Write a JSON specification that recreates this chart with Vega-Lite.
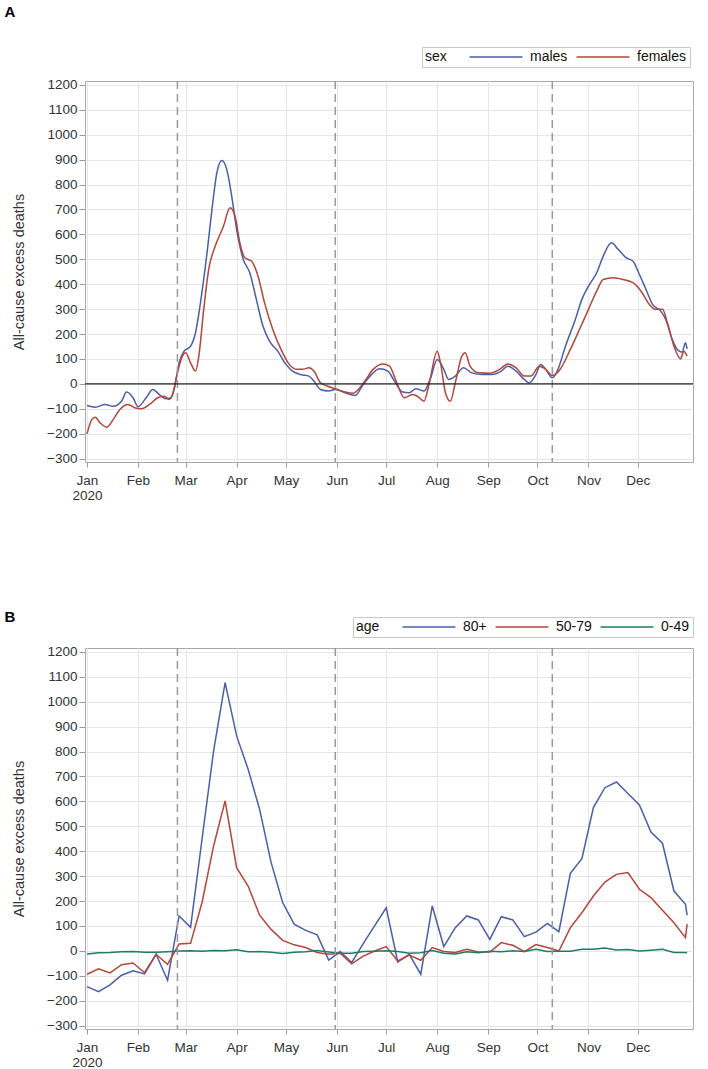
{
  "$schema": "https://vega.github.io/schema/vega-lite/v6.json",
  "background": "white",
  "padding": {"left": 4, "top": 4, "right": 5, "bottom": 0},
  "spacing": 107,
  "config": {
    "font": "Liberation Sans",
    "view": {"stroke": "#a8a8a8", "strokeWidth": 1},
    "axis": {
      "labelFont": "Liberation Sans",
      "labelFontSize": 13.5,
      "labelColor": "#333333",
      "tickColor": "#9a9a9a",
      "domain": false,
      "gridColor": "#e6e6e6",
      "titleFont": "Liberation Sans",
      "titleFontSize": 14.5,
      "titleFontWeight": "normal",
      "titleColor": "#333333",
      "labelOverlap": false
    },
    "axisX": {
      "grid": true,
      "tickSize": 5,
      "labelPadding": 6,
      "labelAngle": 0,
      "labelAlign": "center",
      "labelLineHeight": 15,
      "labelFlush": false,
      "title": null
    },
    "axisY": {
      "grid": true,
      "tickSize": 6,
      "labelPadding": 2,
      "titlePadding": 20
    },
    "legend": {
      "orient": "none",
      "direction": "horizontal",
      "titleOrient": "left",
      "titleAnchor": "middle",
      "titleBaseline": "middle",
      "symbolType": "M-5,0H5",
      "symbolSize": 112,
      "symbolStrokeWidth": 1.5,
      "labelOffset": 27,
      "columnPadding": 5,
      "titlePadding": 42,
      "strokeColor": "#c8c8c8",
      "fillColor": "white",
      "padding": 3,
      "labelFont": "Liberation Sans",
      "labelFontSize": 14,
      "labelColor": "#111111",
      "titleFont": "Liberation Sans",
      "titleFontSize": 14,
      "titleFontWeight": "normal",
      "titleColor": "#111111"
    },
    "title": {"fontSize": 15, "fontWeight": "bold", "anchor": "start", "frame": "bounds", "color": "#000000", "dx": -7}
  },
  "resolve": {
    "scale": {"color": "independent", "x": "independent", "y": "independent"},
    "legend": {"color": "independent"}
  },
  "vconcat": [
    {
      "title": {"text": "A", "offset": 27},
      "width": 608,
      "height": 381,
      "layer": [
        {
          "data": {"values": [
            {"date": "2020-01-01", "sex": "males", "deaths": -87},
            {"date": "2020-01-06", "sex": "males", "deaths": -94},
            {"date": "2020-01-12", "sex": "males", "deaths": -83},
            {"date": "2020-01-17", "sex": "males", "deaths": -90},
            {"date": "2020-01-22", "sex": "males", "deaths": -70},
            {"date": "2020-01-25", "sex": "males", "deaths": -33},
            {"date": "2020-01-29", "sex": "males", "deaths": -56},
            {"date": "2020-02-01", "sex": "males", "deaths": -92},
            {"date": "2020-02-06", "sex": "males", "deaths": -56},
            {"date": "2020-02-10", "sex": "males", "deaths": -23},
            {"date": "2020-02-14", "sex": "males", "deaths": -43},
            {"date": "2020-02-18", "sex": "males", "deaths": -60},
            {"date": "2020-02-21", "sex": "males", "deaths": -56},
            {"date": "2020-02-23", "sex": "males", "deaths": -23},
            {"date": "2020-02-26", "sex": "males", "deaths": 84},
            {"date": "2020-02-29", "sex": "males", "deaths": 131},
            {"date": "2020-03-04", "sex": "males", "deaths": 151},
            {"date": "2020-03-07", "sex": "males", "deaths": 205},
            {"date": "2020-03-10", "sex": "males", "deaths": 325},
            {"date": "2020-03-14", "sex": "males", "deaths": 526},
            {"date": "2020-03-17", "sex": "males", "deaths": 700},
            {"date": "2020-03-20", "sex": "males", "deaths": 848},
            {"date": "2020-03-23", "sex": "males", "deaths": 897},
            {"date": "2020-03-26", "sex": "males", "deaths": 861},
            {"date": "2020-03-29", "sex": "males", "deaths": 754},
            {"date": "2020-04-01", "sex": "males", "deaths": 620},
            {"date": "2020-04-05", "sex": "males", "deaths": 500},
            {"date": "2020-04-09", "sex": "males", "deaths": 446},
            {"date": "2020-04-13", "sex": "males", "deaths": 339},
            {"date": "2020-04-17", "sex": "males", "deaths": 232},
            {"date": "2020-04-21", "sex": "males", "deaths": 171},
            {"date": "2020-04-26", "sex": "males", "deaths": 131},
            {"date": "2020-05-01", "sex": "males", "deaths": 78},
            {"date": "2020-05-05", "sex": "males", "deaths": 51},
            {"date": "2020-05-10", "sex": "males", "deaths": 37},
            {"date": "2020-05-15", "sex": "males", "deaths": 31},
            {"date": "2020-05-18", "sex": "males", "deaths": 11},
            {"date": "2020-05-22", "sex": "males", "deaths": -23},
            {"date": "2020-05-27", "sex": "males", "deaths": -29},
            {"date": "2020-05-31", "sex": "males", "deaths": -23},
            {"date": "2020-06-06", "sex": "males", "deaths": -36},
            {"date": "2020-06-12", "sex": "males", "deaths": -47},
            {"date": "2020-06-17", "sex": "males", "deaths": -3},
            {"date": "2020-06-22", "sex": "males", "deaths": 37},
            {"date": "2020-06-27", "sex": "males", "deaths": 60},
            {"date": "2020-07-02", "sex": "males", "deaths": 51},
            {"date": "2020-07-06", "sex": "males", "deaths": 11},
            {"date": "2020-07-11", "sex": "males", "deaths": -33},
            {"date": "2020-07-15", "sex": "males", "deaths": -36},
            {"date": "2020-07-19", "sex": "males", "deaths": -20},
            {"date": "2020-07-24", "sex": "males", "deaths": -29},
            {"date": "2020-07-28", "sex": "males", "deaths": 24},
            {"date": "2020-08-01", "sex": "males", "deaths": 98},
            {"date": "2020-08-05", "sex": "males", "deaths": 58},
            {"date": "2020-08-08", "sex": "males", "deaths": 17},
            {"date": "2020-08-12", "sex": "males", "deaths": 31},
            {"date": "2020-08-17", "sex": "males", "deaths": 64},
            {"date": "2020-08-22", "sex": "males", "deaths": 44},
            {"date": "2020-08-28", "sex": "males", "deaths": 37},
            {"date": "2020-09-03", "sex": "males", "deaths": 37},
            {"date": "2020-09-09", "sex": "males", "deaths": 51},
            {"date": "2020-09-13", "sex": "males", "deaths": 71},
            {"date": "2020-09-18", "sex": "males", "deaths": 51},
            {"date": "2020-09-22", "sex": "males", "deaths": 24},
            {"date": "2020-09-26", "sex": "males", "deaths": 4},
            {"date": "2020-09-30", "sex": "males", "deaths": 37},
            {"date": "2020-10-03", "sex": "males", "deaths": 78},
            {"date": "2020-10-06", "sex": "males", "deaths": 58},
            {"date": "2020-10-10", "sex": "males", "deaths": 24},
            {"date": "2020-10-13", "sex": "males", "deaths": 51},
            {"date": "2020-10-18", "sex": "males", "deaths": 151},
            {"date": "2020-10-24", "sex": "males", "deaths": 258},
            {"date": "2020-10-28", "sex": "males", "deaths": 339},
            {"date": "2020-11-01", "sex": "males", "deaths": 392},
            {"date": "2020-11-06", "sex": "males", "deaths": 446},
            {"date": "2020-11-10", "sex": "males", "deaths": 513},
            {"date": "2020-11-15", "sex": "males", "deaths": 566},
            {"date": "2020-11-19", "sex": "males", "deaths": 540},
            {"date": "2020-11-24", "sex": "males", "deaths": 506},
            {"date": "2020-11-28", "sex": "males", "deaths": 493},
            {"date": "2020-12-02", "sex": "males", "deaths": 439},
            {"date": "2020-12-06", "sex": "males", "deaths": 379},
            {"date": "2020-12-10", "sex": "males", "deaths": 319},
            {"date": "2020-12-15", "sex": "males", "deaths": 292},
            {"date": "2020-12-18", "sex": "males", "deaths": 258},
            {"date": "2020-12-22", "sex": "males", "deaths": 178},
            {"date": "2020-12-25", "sex": "males", "deaths": 138},
            {"date": "2020-12-28", "sex": "males", "deaths": 127},
            {"date": "2020-12-30", "sex": "males", "deaths": 165},
            {"date": "2020-12-31", "sex": "males", "deaths": 140},
            {"date": "2020-01-01", "sex": "females", "deaths": -201},
            {"date": "2020-01-04", "sex": "females", "deaths": -143},
            {"date": "2020-01-06", "sex": "females", "deaths": -134},
            {"date": "2020-01-09", "sex": "females", "deaths": -157},
            {"date": "2020-01-13", "sex": "females", "deaths": -174},
            {"date": "2020-01-17", "sex": "females", "deaths": -143},
            {"date": "2020-01-21", "sex": "females", "deaths": -103},
            {"date": "2020-01-26", "sex": "females", "deaths": -83},
            {"date": "2020-01-30", "sex": "females", "deaths": -96},
            {"date": "2020-02-03", "sex": "females", "deaths": -100},
            {"date": "2020-02-08", "sex": "females", "deaths": -83},
            {"date": "2020-02-13", "sex": "females", "deaths": -56},
            {"date": "2020-02-17", "sex": "females", "deaths": -50},
            {"date": "2020-02-20", "sex": "females", "deaths": -63},
            {"date": "2020-02-22", "sex": "females", "deaths": -43},
            {"date": "2020-02-25", "sex": "females", "deaths": 44},
            {"date": "2020-02-28", "sex": "females", "deaths": 111},
            {"date": "2020-03-01", "sex": "females", "deaths": 125},
            {"date": "2020-03-04", "sex": "females", "deaths": 84},
            {"date": "2020-03-07", "sex": "females", "deaths": 51},
            {"date": "2020-03-09", "sex": "females", "deaths": 111},
            {"date": "2020-03-12", "sex": "females", "deaths": 299},
            {"date": "2020-03-15", "sex": "females", "deaths": 459},
            {"date": "2020-03-19", "sex": "females", "deaths": 553},
            {"date": "2020-03-24", "sex": "females", "deaths": 633},
            {"date": "2020-03-28", "sex": "females", "deaths": 707},
            {"date": "2020-03-31", "sex": "females", "deaths": 674},
            {"date": "2020-04-03", "sex": "females", "deaths": 566},
            {"date": "2020-04-06", "sex": "females", "deaths": 506},
            {"date": "2020-04-10", "sex": "females", "deaths": 493},
            {"date": "2020-04-14", "sex": "females", "deaths": 433},
            {"date": "2020-04-18", "sex": "females", "deaths": 325},
            {"date": "2020-04-23", "sex": "females", "deaths": 218},
            {"date": "2020-04-28", "sex": "females", "deaths": 138},
            {"date": "2020-05-03", "sex": "females", "deaths": 78},
            {"date": "2020-05-08", "sex": "females", "deaths": 58},
            {"date": "2020-05-11", "sex": "females", "deaths": 58},
            {"date": "2020-05-15", "sex": "females", "deaths": 64},
            {"date": "2020-05-18", "sex": "females", "deaths": 51},
            {"date": "2020-05-22", "sex": "females", "deaths": 4},
            {"date": "2020-05-26", "sex": "females", "deaths": -9},
            {"date": "2020-05-31", "sex": "females", "deaths": -20},
            {"date": "2020-06-06", "sex": "females", "deaths": -33},
            {"date": "2020-06-11", "sex": "females", "deaths": -38},
            {"date": "2020-06-13", "sex": "females", "deaths": -29},
            {"date": "2020-06-18", "sex": "females", "deaths": 11},
            {"date": "2020-06-23", "sex": "females", "deaths": 58},
            {"date": "2020-06-29", "sex": "females", "deaths": 80},
            {"date": "2020-07-03", "sex": "females", "deaths": 71},
            {"date": "2020-07-07", "sex": "females", "deaths": 11},
            {"date": "2020-07-12", "sex": "females", "deaths": -56},
            {"date": "2020-07-17", "sex": "females", "deaths": -43},
            {"date": "2020-07-20", "sex": "females", "deaths": -50},
            {"date": "2020-07-24", "sex": "females", "deaths": -70},
            {"date": "2020-07-27", "sex": "females", "deaths": -3},
            {"date": "2020-08-01", "sex": "females", "deaths": 131},
            {"date": "2020-08-03", "sex": "females", "deaths": 84},
            {"date": "2020-08-06", "sex": "females", "deaths": -36},
            {"date": "2020-08-09", "sex": "females", "deaths": -70},
            {"date": "2020-08-12", "sex": "females", "deaths": 4},
            {"date": "2020-08-16", "sex": "females", "deaths": 111},
            {"date": "2020-08-18", "sex": "females", "deaths": 125},
            {"date": "2020-08-21", "sex": "females", "deaths": 71},
            {"date": "2020-08-26", "sex": "females", "deaths": 44},
            {"date": "2020-09-02", "sex": "females", "deaths": 42},
            {"date": "2020-09-08", "sex": "females", "deaths": 58},
            {"date": "2020-09-13", "sex": "females", "deaths": 80},
            {"date": "2020-09-18", "sex": "females", "deaths": 64},
            {"date": "2020-09-23", "sex": "females", "deaths": 31},
            {"date": "2020-09-27", "sex": "females", "deaths": 31},
            {"date": "2020-10-02", "sex": "females", "deaths": 71},
            {"date": "2020-10-06", "sex": "females", "deaths": 58},
            {"date": "2020-10-10", "sex": "females", "deaths": 33},
            {"date": "2020-10-14", "sex": "females", "deaths": 51},
            {"date": "2020-10-21", "sex": "females", "deaths": 138},
            {"date": "2020-10-27", "sex": "females", "deaths": 225},
            {"date": "2020-11-01", "sex": "females", "deaths": 299},
            {"date": "2020-11-06", "sex": "females", "deaths": 372},
            {"date": "2020-11-10", "sex": "females", "deaths": 419},
            {"date": "2020-11-16", "sex": "females", "deaths": 426},
            {"date": "2020-11-22", "sex": "females", "deaths": 419},
            {"date": "2020-11-28", "sex": "females", "deaths": 406},
            {"date": "2020-12-03", "sex": "females", "deaths": 372},
            {"date": "2020-12-08", "sex": "females", "deaths": 319},
            {"date": "2020-12-12", "sex": "females", "deaths": 299},
            {"date": "2020-12-16", "sex": "females", "deaths": 299},
            {"date": "2020-12-19", "sex": "females", "deaths": 245},
            {"date": "2020-12-23", "sex": "females", "deaths": 151},
            {"date": "2020-12-27", "sex": "females", "deaths": 100},
            {"date": "2020-12-29", "sex": "females", "deaths": 131},
            {"date": "2020-12-31", "sex": "females", "deaths": 111}
          ]},
          "mark": {"type": "line", "interpolate": "monotone", "strokeWidth": 1.5},
          "encoding": {
            "x": {
              "field": "date",
              "type": "temporal",
              "title": null,
              "scale": {
                "type": "utc",
                "domain": [
                  {"year": 2019, "month": 12, "date": 30, "hours": 18, "minutes": 45, "utc": true},
                  {"year": 2021, "month": 1, "date": 3, "hours": 14, "utc": true}
                ]
              },
              "axis": {
                "values": [
                  {"year": 2020, "month": 1, "date": 1, "utc": true},
                  {"year": 2020, "month": 2, "date": 1, "utc": true},
                  {"year": 2020, "month": 3, "date": 1, "utc": true},
                  {"year": 2020, "month": 4, "date": 1, "utc": true},
                  {"year": 2020, "month": 5, "date": 1, "utc": true},
                  {"year": 2020, "month": 6, "date": 1, "utc": true},
                  {"year": 2020, "month": 7, "date": 1, "utc": true},
                  {"year": 2020, "month": 8, "date": 1, "utc": true},
                  {"year": 2020, "month": 9, "date": 1, "utc": true},
                  {"year": 2020, "month": 10, "date": 1, "utc": true},
                  {"year": 2020, "month": 11, "date": 1, "utc": true},
                  {"year": 2020, "month": 12, "date": 1, "utc": true}
                ],
                "labelOverlap": false,
                "labelExpr": "utcmonth(datum.value) == 0 ? ['Jan', '2020'] : utcFormat(datum.value, '%b')"
              }
            },
            "y": {
              "field": "deaths",
              "type": "quantitative",
              "title": "All-cause excess deaths",
              "scale": {"domain": [-314, 1216], "nice": false, "zero": false},
              "axis": {
                "values": [-300, -200, -100, 0, 100, 200, 300, 400, 500, 600, 700, 800, 900, 1000, 1100, 1200],
                "labelOverlap": false,
                "format": "d"
              }
            },
            "color": {
              "field": "sex",
              "type": "nominal",
              "scale": {"domain": ["males", "females"], "range": ["#4a5ea8", "#b5453a"]},
              "legend": {"title": "sex", "legendX": 337, "legendY": -34}
            }
          }
        },
        {
          "data": {"values": [{"date": "2020-02-25"}, {"date": "2020-05-31"}, {"date": "2020-10-10"}]},
          "mark": {"type": "rule", "color": "#999999", "strokeDash": [8, 5], "strokeWidth": 1.5},
          "encoding": {"x": {"field": "date", "type": "temporal", "title": null}}
        },
        {
          "data": {"values": [{"level": 0}]},
          "mark": {"type": "rule", "color": "#222222", "strokeWidth": 1.2},
          "encoding": {
            "y": {
              "field": "level",
              "type": "quantitative",
              "title": "All-cause excess deaths",
              "axis": {
                "values": [-300, -200, -100, 0, 100, 200, 300, 400, 500, 600, 700, 800, 900, 1000, 1100, 1200],
                "labelOverlap": false,
                "format": "d"
              }
            }
          }
        }
      ]
    },
    {
      "title": {"text": "B", "offset": -8},
      "width": 608,
      "height": 381,
      "layer": [
        {
          "data": {"values": [
            {"date": "2020-01-01", "80+": -144, "50-79": -94, "0-49": -13},
            {"date": "2020-01-08", "80+": -164, "50-79": -72, "0-49": -8},
            {"date": "2020-01-15", "80+": -137, "50-79": -89, "0-49": -7},
            {"date": "2020-01-22", "80+": -98, "50-79": -56, "0-49": -4},
            {"date": "2020-01-29", "80+": -80, "50-79": -49, "0-49": -3},
            {"date": "2020-02-05", "80+": -93, "50-79": -88, "0-49": -6},
            {"date": "2020-02-12", "80+": -14, "50-79": -14, "0-49": -6},
            {"date": "2020-02-19", "80+": -118, "50-79": -54, "0-49": -4},
            {"date": "2020-02-26", "80+": 140, "50-79": 27, "0-49": -1},
            {"date": "2020-03-04", "80+": 94, "50-79": 30, "0-49": 0},
            {"date": "2020-03-11", "80+": 450, "50-79": 195, "0-49": -2},
            {"date": "2020-03-18", "80+": 803, "50-79": 421, "0-49": 1},
            {"date": "2020-03-25", "80+": 1077, "50-79": 602, "0-49": 0},
            {"date": "2020-04-01", "80+": 863, "50-79": 334, "0-49": 4},
            {"date": "2020-04-08", "80+": 729, "50-79": 260, "0-49": -4},
            {"date": "2020-04-15", "80+": 568, "50-79": 143, "0-49": -3},
            {"date": "2020-04-22", "80+": 354, "50-79": 86, "0-49": -6},
            {"date": "2020-04-29", "80+": 194, "50-79": 42, "0-49": -11},
            {"date": "2020-05-06", "80+": 107, "50-79": 24, "0-49": -6},
            {"date": "2020-05-13", "80+": 82, "50-79": 13, "0-49": -4},
            {"date": "2020-05-20", "80+": 64, "50-79": -7, "0-49": 1},
            {"date": "2020-05-27", "80+": -37, "50-79": -14, "0-49": -5},
            {"date": "2020-06-03", "80+": -3, "50-79": -10, "0-49": -10},
            {"date": "2020-06-10", "80+": -47, "50-79": -52, "0-49": -10},
            {"date": "2020-06-17", "80+": 29, "50-79": -21, "0-49": -3},
            {"date": "2020-06-24", "80+": 101, "50-79": -1, "0-49": -2},
            {"date": "2020-07-01", "80+": 173, "50-79": 17, "0-49": 0},
            {"date": "2020-07-08", "80+": -45, "50-79": -41, "0-49": -3},
            {"date": "2020-07-15", "80+": -14, "50-79": -17, "0-49": -10},
            {"date": "2020-07-22", "80+": -94, "50-79": -38, "0-49": -8},
            {"date": "2020-07-29", "80+": 180, "50-79": 13, "0-49": 1},
            {"date": "2020-08-05", "80+": 17, "50-79": -3, "0-49": -10},
            {"date": "2020-08-12", "80+": 93, "50-79": -7, "0-49": -13},
            {"date": "2020-08-19", "80+": 140, "50-79": 6, "0-49": -4},
            {"date": "2020-08-26", "80+": 124, "50-79": -5, "0-49": -8},
            {"date": "2020-09-02", "80+": 46, "50-79": -5, "0-49": -2},
            {"date": "2020-09-09", "80+": 137, "50-79": 33, "0-49": -4},
            {"date": "2020-09-16", "80+": 124, "50-79": 22, "0-49": 0},
            {"date": "2020-09-23", "80+": 57, "50-79": -3, "0-49": -3},
            {"date": "2020-09-30", "80+": 75, "50-79": 25, "0-49": 6},
            {"date": "2020-10-07", "80+": 110, "50-79": 13, "0-49": -3},
            {"date": "2020-10-14", "80+": 77, "50-79": -1, "0-49": -2},
            {"date": "2020-10-21", "80+": 311, "50-79": 93, "0-49": -2},
            {"date": "2020-10-28", "80+": 370, "50-79": 153, "0-49": 6},
            {"date": "2020-11-04", "80+": 575, "50-79": 220, "0-49": 6},
            {"date": "2020-11-11", "80+": 655, "50-79": 276, "0-49": 11},
            {"date": "2020-11-18", "80+": 678, "50-79": 307, "0-49": 3},
            {"date": "2020-11-25", "80+": 632, "50-79": 314, "0-49": 5},
            {"date": "2020-12-02", "80+": 586, "50-79": 247, "0-49": -1},
            {"date": "2020-12-09", "80+": 477, "50-79": 214, "0-49": 2},
            {"date": "2020-12-16", "80+": 432, "50-79": 163, "0-49": 6},
            {"date": "2020-12-23", "80+": 240, "50-79": 113, "0-49": -7},
            {"date": "2020-12-30", "80+": 187, "50-79": 53, "0-49": -7},
            {"date": "2020-12-31", "80+": 143, "50-79": 107, "0-49": -7}
          ]},
          "transform": [{"fold": ["80+", "50-79", "0-49"], "as": ["age", "deaths"]}],
          "mark": {"type": "line", "strokeWidth": 1.5},
          "encoding": {
            "x": {
              "field": "date",
              "type": "temporal",
              "title": null,
              "scale": {
                "type": "utc",
                "domain": [
                  {"year": 2019, "month": 12, "date": 30, "hours": 18, "minutes": 45, "utc": true},
                  {"year": 2021, "month": 1, "date": 3, "hours": 14, "utc": true}
                ]
              },
              "axis": {
                "values": [
                  {"year": 2020, "month": 1, "date": 1, "utc": true},
                  {"year": 2020, "month": 2, "date": 1, "utc": true},
                  {"year": 2020, "month": 3, "date": 1, "utc": true},
                  {"year": 2020, "month": 4, "date": 1, "utc": true},
                  {"year": 2020, "month": 5, "date": 1, "utc": true},
                  {"year": 2020, "month": 6, "date": 1, "utc": true},
                  {"year": 2020, "month": 7, "date": 1, "utc": true},
                  {"year": 2020, "month": 8, "date": 1, "utc": true},
                  {"year": 2020, "month": 9, "date": 1, "utc": true},
                  {"year": 2020, "month": 10, "date": 1, "utc": true},
                  {"year": 2020, "month": 11, "date": 1, "utc": true},
                  {"year": 2020, "month": 12, "date": 1, "utc": true}
                ],
                "labelOverlap": false,
                "labelExpr": "utcmonth(datum.value) == 0 ? ['Jan', '2020'] : utcFormat(datum.value, '%b')"
              }
            },
            "y": {
              "field": "deaths",
              "type": "quantitative",
              "title": "All-cause excess deaths",
              "scale": {"domain": [-314, 1216], "nice": false, "zero": false},
              "axis": {
                "values": [-300, -200, -100, 0, 100, 200, 300, 400, 500, 600, 700, 800, 900, 1000, 1100, 1200],
                "labelOverlap": false,
                "format": "d"
              }
            },
            "color": {
              "field": "age",
              "type": "nominal",
              "scale": {"domain": ["80+", "50-79", "0-49"], "range": ["#4a5ea8", "#b5453a", "#1f7a6a"]},
              "legend": {"title": "age", "legendX": 268, "legendY": -31}
            }
          }
        },
        {
          "data": {"values": [{"date": "2020-02-25"}, {"date": "2020-05-31"}, {"date": "2020-10-10"}]},
          "mark": {"type": "rule", "color": "#999999", "strokeDash": [8, 5], "strokeWidth": 1.5},
          "encoding": {"x": {"field": "date", "type": "temporal", "title": null}}
        }
      ]
    }
  ]
}
